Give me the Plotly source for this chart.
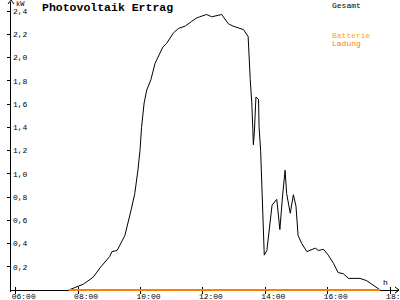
import plotly.graph_objects as go

# ---- data ----
gesamt_times = ["07:42","07:59","08:10","08:29","08:42","09:01","09:05","09:15","09:30","09:42",
                "09:49","09:55","09:59","10:02","10:07","10:12","10:20","10:28","10:34","10:43",
                "10:50","11:03","11:13","11:26","11:38","11:48","11:54","12:07","12:17","12:36",
                "12:49","12:58","13:18","13:27","13:31","13:34","13:36","13:37","13:39","13:42",
                "13:47","13:48","13:51","13:53","13:56","13:58","14:03","14:09","14:13","14:22",
                "14:25","14:28","14:33","14:38","14:41","14:48","14:54","14:59","15:03","15:10",
                "15:20","15:26","15:36","15:42","15:52","16:01","16:11","16:20","16:30","16:40",
                "17:02","17:15","17:37","17:41"]
gesamt_kw = [0,0.03,0.05,0.11,0.19,0.29,0.33,0.34,0.47,0.69,
             0.83,1.03,1.20,1.40,1.61,1.72,1.81,1.95,2.01,2.09,
             2.12,2.21,2.25,2.27,2.31,2.34,2.35,2.37,2.35,2.37,
             2.29,2.27,2.24,2.18,1.81,1.61,1.38,1.25,1.36,1.66,
             1.64,1.40,1.20,0.96,0.52,0.30,0.34,0.60,0.73,0.78,
             0.65,0.52,0.80,1.03,0.83,0.66,0.82,0.72,0.47,0.40,
             0.33,0.34,0.36,0.34,0.35,0.30,0.23,0.15,0.14,0.10,
             0.10,0.08,0.01,0]
batterie_times = ["07:42","17:41"]
batterie_kw = [0,0]
x_tick_vals = [6,8,10,12,14,16,18]
x_tick_labels = ["06:00","08:00","10:00","12:00","14:00","16:00","18:00"]
y_tick_vals = [0.2,0.4,0.6,0.8,1.0,1.2,1.4,1.6,1.8,2.0,2.2,2.4]
title_text = "Photovoltaik Ertrag"
series_names = ["Gesamt", "Batterie", "Ladung"]

# ---- geometry (pixels) ----
ML, MR, MT, MB = 11, 1, 2, 8
PLOT_W = 400 - ML - MR          # 388
PLOT_H = 300 - MT - MB          # 290
AXIS_PX = 290                   # pixel row of the time axis
PX_PER_KW = 116.25
y_range = [-(300 - MB - AXIS_PX) / PX_PER_KW, (AXIS_PX - MT) / PX_PER_KW]
x_range = [5.849, 18.285]
axis_pos = (300 - MB - AXIS_PX) / PLOT_H

def to_hours(t):
    h, m = t.split(":")
    return int(h) + int(m) / 60.0

MONO = "Liberation Mono, DejaVu Sans Mono, monospace"

fig = go.Figure()
fig.add_trace(go.Scatter(x=[to_hours(t) for t in gesamt_times], y=gesamt_kw,
                         mode="lines", line=dict(color="black", width=1),
                         name=series_names[0], showlegend=False, hoverinfo="skip"))
fig.add_trace(go.Scatter(x=[to_hours(t) for t in batterie_times], y=batterie_kw,
                         mode="lines", line=dict(color="#ff8000", width=2),
                         name=series_names[1] + " " + series_names[2], showlegend=False,
                         hoverinfo="skip"))
# empty trace so the overlay (label) axes are drawn
fig.add_trace(go.Scatter(x=[], y=[], xaxis="x2", yaxis="y2", showlegend=False, hoverinfo="skip"))

tickfont = dict(family=MONO, size=8, color="black")
fig.update_layout(
    width=400, height=300,
    margin=dict(l=ML, r=MR, t=MT, b=MB, autoexpand=False),
    paper_bgcolor="white", plot_bgcolor="white",
    separators=",.",
    showlegend=False,
    font=dict(family=MONO, size=8, color="black"),
    xaxis=dict(range=x_range, anchor="free", position=axis_pos, layer="below traces",
               showgrid=False, zeroline=False, automargin=False,
               showline=True, linecolor="black", linewidth=1,
               tickvals=x_tick_vals, showticklabels=False,
               ticks="outside", ticklen=3, tickcolor="black", tickwidth=1),
    xaxis2=dict(range=x_range, overlaying="x", anchor="free", position=axis_pos,
                layer="below traces", showgrid=False, zeroline=False, automargin=False,
                showline=False, tickvals=x_tick_vals, ticktext=x_tick_labels,
                ticks="inside", ticklen=3, tickcolor="black", tickwidth=1,
                ticklabelshift=8, ticklabelstandoff=0, ticklabeloverflow="allow",
                tickfont=tickfont),
    yaxis=dict(range=y_range, showgrid=False, zeroline=False, automargin=False,
               showline=True, linecolor="black", linewidth=1,
               tickvals=y_tick_vals, showticklabels=False,
               ticks="outside", ticklen=3, tickcolor="black", tickwidth=1),
    yaxis2=dict(overlaying="y", anchor="free", position=0, side="right",
                range=y_range, showgrid=False, zeroline=False, showline=False,
                tickvals=y_tick_vals, tickformat=".1f", ticks="inside", ticklen=3,
                tickcolor="black", tickwidth=1,
                ticklabelstandoff=1, automargin=False, tickfont=tickfont),
)

# axis arrows
fig.add_shape(type="path", xref="paper", yref="paper", xsizemode="pixel", ysizemode="pixel",
              xanchor=1, yanchor=axis_pos, path="M-4,-3 L0,0 L-4,3",
              line=dict(color="black", width=1))
fig.add_shape(type="path", xref="paper", yref="paper", xsizemode="pixel", ysizemode="pixel",
              xanchor=0, yanchor=1 + MT / PLOT_H, path="M-3,-4 L0,0 L3,-4",
              line=dict(color="black", width=1))

# texts (placed in pixels, converted to paper coords below)
fig.add_annotation(x=40, y=7, text="<b>" + title_text + "</b>",
                   showarrow=False, xanchor="left", yanchor="middle",
                   font=dict(family=MONO, size=11.5, color="black"))
fig.add_annotation(x=330, y=5, text=series_names[0], showarrow=False,
                   xanchor="left", yanchor="middle", font=dict(family=MONO, size=8, color="black"))
fig.add_annotation(x=330, y=35.5, text=series_names[1], showarrow=False,
                   xanchor="left", yanchor="middle", font=dict(family=MONO, size=8, color="#ffa800"))
fig.add_annotation(x=330, y=44, text=series_names[2], showarrow=False,
                   xanchor="left", yanchor="middle", font=dict(family=MONO, size=8, color="#ff8000"))
fig.add_annotation(x=14, y=4, text="kW", showarrow=False,
                   xanchor="left", yanchor="middle", font=dict(family=MONO, size=7, color="black"))
fig.add_annotation(x=385, y=282, text="h", showarrow=False,
                   xanchor="center", yanchor="middle", font=dict(family=MONO, size=8, color="black"))

for a in fig.layout.annotations:
    px, py = a.x, a.y
    a.xref = "paper"; a.yref = "paper"
    a.x = (px - ML) / PLOT_W
    a.y = (300 - MB - py) / PLOT_H

fig.write_html("out.html")
